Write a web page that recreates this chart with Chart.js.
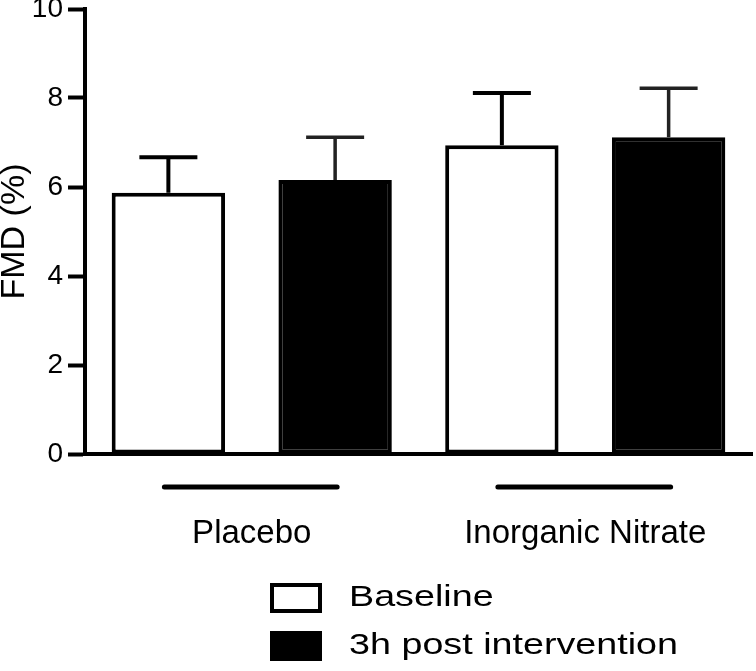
<!DOCTYPE html>
<html>
<head>
<meta charset="utf-8">
<script src="https://cdn.jsdelivr.net/npm/chart.js@4"></script>
<style>
  body { margin: 0; background: #fff; }
  #wrap { width: 756px; height: 671px; }
</style>
</head>
<body>
<div id="wrap"><canvas id="fmdChart"></canvas></div>
<script>
const groups = ['Placebo', 'Inorganic Nitrate'];
const seriesNames = ['Baseline', '3h post intervention'];
const baseline = [5.87, 6.94];
const post = [6.16, 7.12];
const baselineErr = [0.80, 1.17];
const postErr = [0.96, 1.10];
const yTicks = [0, 2, 4, 6, 8, 10];

const FONT = '"Liberation Sans", Arial, sans-serif';

// one slot per bar: baseline, post, baseline, post
const slots = [];
groups.forEach(g => { slots.push(g + ' baseline'); slots.push(g + ' post'); });
const baseData = [], postData = [], baseErrData = [], postErrData = [];
groups.forEach((g, i) => {
    baseData.push(baseline[i], null);
    postData.push(null, post[i]);
    baseErrData.push(baselineErr[i], null);
    postErrData.push(null, postErr[i]);
});

const errorBars = {
    id: 'errorBars',
    afterDatasetsDraw(chart) {
        const ctx = chart.ctx;
        const y = chart.scales.y;
        chart.data.datasets.forEach((ds, di) => {
            const meta = chart.getDatasetMeta(di);
            meta.data.forEach((bar, i) => {
                const v = ds.data[i];
                if (v == null) return;
                const top = y.getPixelForValue(v + ds.err[i]);
                ctx.save();
                ctx.strokeStyle = di === 0 ? '#000' : '#222';
                ctx.lineWidth = di === 0 ? 4 : 3.5;
                ctx.beginPath();
                ctx.moveTo(bar.x, bar.y);
                ctx.lineTo(bar.x, top);
                ctx.moveTo(bar.x - 29, top);
                ctx.lineTo(bar.x + 29, top);
                ctx.stroke();
                ctx.restore();
            });
        });
    }
};

const groupLines = {
    id: 'groupLines',
    afterDraw(chart) {
        const ctx = chart.ctx;
        const x = chart.scales.x;
        const yLine = chart.chartArea.bottom + 33;
        ctx.save();
        ctx.strokeStyle = '#000';
        ctx.lineWidth = 5;
        ctx.lineCap = 'round';
        groups.forEach((g, i) => {
            ctx.beginPath();
            ctx.moveTo(x.getPixelForValue(i * 2) - 4, yLine);
            ctx.lineTo(x.getPixelForValue(i * 2 + 1) + 2, yLine);
            ctx.stroke();
        });
        ctx.restore();
    }
};

const boxLegend = {
    id: 'boxLegend',
    afterDraw(chart) {
        const ctx = chart.ctx;
        ctx.save();
        ctx.font = '29px ' + FONT;
        ctx.textBaseline = 'alphabetic';
        chart.data.datasets.forEach((ds, i) => {
            const top = 583 + i * 48;
            ctx.fillStyle = ds.backgroundColor;
            ctx.fillRect(270, top, 52, 30);
            ctx.strokeStyle = '#000';
            ctx.lineWidth = 4;
            ctx.strokeRect(272, top + 2, 48, 26);
            ctx.fillStyle = '#000';
            ctx.save();
            ctx.translate(349, top + 23);
            ctx.scale(1.3, 1);
            ctx.fillText(ds.label, 0, 0);
            ctx.restore();
        });
        ctx.restore();
    }
};

new Chart(document.getElementById('fmdChart'), {
    type: 'bar',
    data: {
        labels: slots,
        datasets: [{
            label: seriesNames[0],
            data: baseData,
            err: baseErrData,
            backgroundColor: '#fff',
            borderColor: '#000',
            borderWidth: 4,
            borderSkipped: false
        }, {
            label: seriesNames[1],
            data: postData,
            err: postErrData,
            backgroundColor: '#000',
            borderColor: '#000',
            borderWidth: 4,
            borderSkipped: false
        }]
    },
    options: {
        responsive: true,
        maintainAspectRatio: false,
        animation: false,
        grouped: false,
        categoryPercentage: 1,
        barPercentage: 0.68,
        layout: { padding: { left: 0, right: 4, top: 0, bottom: 104 } },
        plugins: { legend: { display: false }, tooltip: { enabled: false } },
        scales: {
            x: {
                weight: 0,
                grid: { display: false, drawTicks: false },
                border: { display: true, color: '#000', width: 4 },
                ticks: { display: false },
                afterFit(s) { s.height = 0; s.paddingLeft = 0; s.paddingRight = 0; }
            },
            grp: {
                type: 'category',
                labels: groups,
                position: 'bottom',
                offset: true,
                weight: 1,
                grid: { display: false, drawTicks: false },
                border: { display: false },
                ticks: { color: '#000', font: { family: FONT, size: 33 }, padding: 60, maxRotation: 0, autoSkip: false },
                afterFit(s) { s.height = 113; s.paddingLeft = 0; s.paddingRight = 0; }
            },
            y: {
                min: 0,
                max: 10,
                afterBuildTicks(s) { s.ticks = yTicks.map(v => ({ value: v })); },
                grid: { display: true, drawOnChartArea: false, tickLength: 17, tickWidth: 4, tickColor: '#000' },
                border: { display: true, color: '#000', width: 4 },
                ticks: { color: '#000', font: { family: FONT, size: 28 }, padding: 5 },
                title: { display: true, text: 'FMD (%)', color: '#000', font: { family: FONT, size: 34, lineHeight: 0.85 }, padding: 0 },
                afterFit(s) { s.width = 85; s.paddingTop = 9; }
            }
        }
    },
    plugins: [errorBars, groupLines, boxLegend]
});
</script>
</body>
</html>
